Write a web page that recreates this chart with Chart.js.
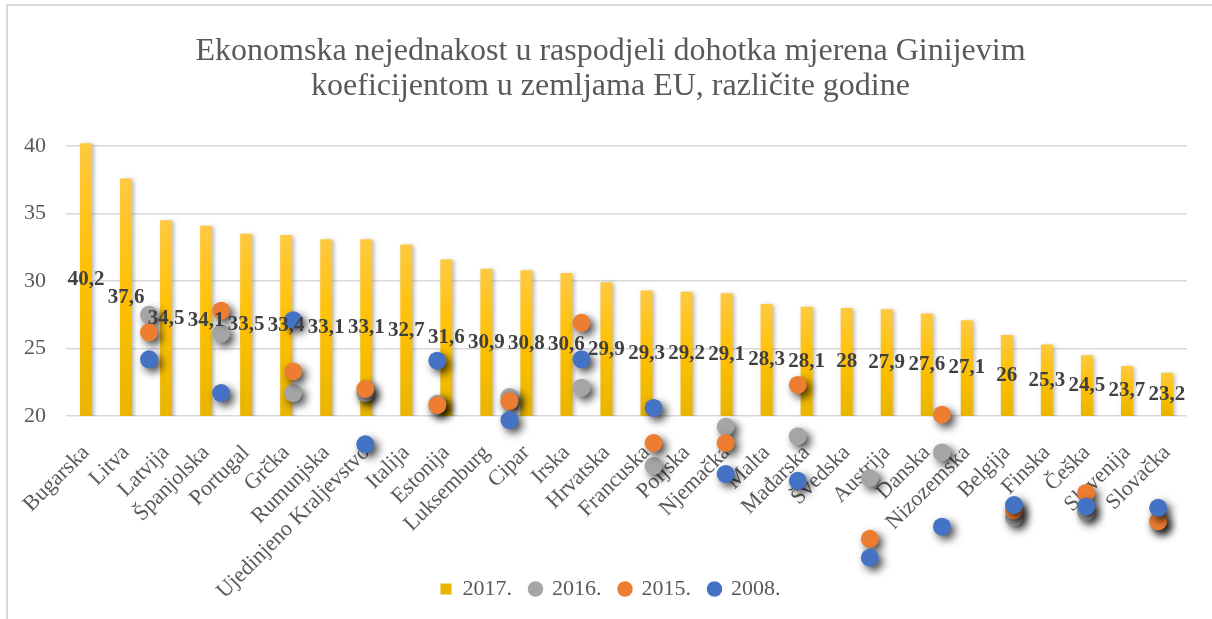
<!DOCTYPE html>
<html>
<head>
<meta charset="utf-8">
<title>Gini koeficijent EU</title>
<script src="https://cdn.jsdelivr.net/npm/chart.js@4.4.0/dist/chart.umd.min.js"></script>
<style>
  html, body { margin: 0; padding: 0; background: #fff; overflow: hidden; }
  #wrap { position: absolute; left: 6px; top: 4px; width: 1210px; height: 615px; border: 2px solid #d9d9d9; }
  canvas { display: block; }
</style>
</head>
<body>
<div id="wrap"><canvas id="giniChart" width="1210" height="615"></canvas></div>
<script>
// zemlje i Gini 2017. (stupci)
const countries = ['Bugarska', 'Litva', 'Latvija', 'Španjolska', 'Portugal', 'Grčka', 'Rumunjska',
  'Ujedinjeno Kraljevstvo', 'Italija', 'Estonija', 'Luksemburg', 'Cipar', 'Irska', 'Hrvatska',
  'Francuska', 'Poljska', 'Njemačka', 'Malta', 'Mađarska', 'Švedska', 'Austrija', 'Danska',
  'Nizozemska', 'Belgija', 'Finska', 'Češka', 'Slovenija', 'Slovačka'];
const gini2017 = [40.2, 37.6, 34.5, 34.1, 33.5, 33.4, 33.1, 33.1, 32.7, 31.6, 30.9, 30.8, 30.6, 29.9,
  29.3, 29.2, 29.1, 28.3, 28.1, 28, 27.9, 27.6, 27.1, 26, 25.3, 24.5, 23.7, 23.2];

// točke (xy serije, 15 točaka)
const pointX = [1, 2, 3, 4, 5, 6, 7, 8, 9, 10, 11, 12, 13, 14, 15];
const gini2016 = [27.5, 26.1, 21.7, 21.7, 20.9, 21.4, 22.1, 16.3, 19.2, 18.5, 15.4, 17.3, 12.5, 12.9, 12.2];
const gini2015 = [26.2, 27.8, 23.3, 22.0, 20.8, 21.1, 26.9, 18.0, 18.0, 22.3, 10.9, 20.1, 13.0, 14.3, 12.2];
const gini2008 = [24.2, 21.7, 27.1, 17.9, 24.1, 19.7, 24.2, 20.6, 15.7, 15.2, 9.5, 11.8, 13.4, 13.3, 13.2];

const yTicks = [20, 25, 30, 35, 40];

const serif = '"Liberation Serif", "Times New Roman", serif';
const fmt = v => String(v).replace('.', ',');
const toXY = arr => arr.map((y, i) => ({x: pointX[i], y: y}));
const noLabelClip = scale => { scale._computeLabelArea = () => undefined; };

const barFill = (c) => {
  const chart = c.chart;
  const y = chart.scales.y;
  if (!y || c.raw === undefined) return '#FFC000';
  const top = y.getPixelForValue(c.raw);
  const bottom = y.bottom;
  if (!isFinite(top) || !isFinite(bottom) || top === bottom) return '#FFC000';
  const g = chart.ctx.createLinearGradient(0, top, 0, bottom);
  g.addColorStop(0, '#FFC940');
  g.addColorStop(0.5, '#FFC000');
  g.addColorStop(1, '#E8B500');
  return g;
};

// sjene; tocke ispod osi (vrijednost < 20) se takodjer crtaju
const shadows = {
  id: 'shadows',
  beforeDatasetDraw(chart, args) {
    const ctx = chart.ctx;
    ctx.save();
    if (args.index === 0) {
      ctx.shadowColor = 'rgba(0,0,0,0.28)';
      ctx.shadowBlur = 4;
      ctx.shadowOffsetX = 2;
      ctx.shadowOffsetY = 1;
    } else {
      ctx.shadowColor = 'rgba(0,0,0,0.75)';
      ctx.shadowBlur = 8;
      ctx.shadowOffsetX = 4;
      ctx.shadowOffsetY = 4;
      this._area = chart.chartArea;
      chart.chartArea = {left: 0, top: 0, right: chart.width, bottom: chart.height,
        width: chart.width, height: chart.height};
    }
  },
  afterDatasetDraw(chart) {
    if (this._area) {
      chart.chartArea = this._area;
      this._area = null;
    }
    chart.ctx.restore();
  }
};

// vrijednosti u sredini stupca
const barLabels = {
  id: 'barLabels',
  afterDatasetsDraw(chart) {
    const ctx = chart.ctx;
    const y = chart.scales.y;
    const meta = chart.getDatasetMeta(0);
    ctx.save();
    ctx.font = 'bold 21px ' + serif;
    ctx.fillStyle = '#404040';
    ctx.textAlign = 'center';
    ctx.textBaseline = 'middle';
    meta.data.forEach((bar, i) => {
      const v = gini2017[i];
      ctx.fillText(fmt(v), bar.x, y.getPixelForValue((v + y.min) / 2));
    });
    ctx.restore();
  }
};

new Chart(document.getElementById('giniChart'), {
  type: 'bar',
  data: {
    labels: countries,
    datasets: [
      {
        label: '2017.',
        data: gini2017,
        backgroundColor: barFill,
        grouped: false,
        barPercentage: 0.3,
        categoryPercentage: 1,
        pointStyle: 'rect',
        clip: {left: false, top: 10, right: false, bottom: 0},
        order: 4
      },
      {
        type: 'scatter', label: '2016.', data: toXY(gini2016), xAxisID: 'x2',
        backgroundColor: '#A5A5A5', borderColor: '#A5A5A5', pointRadius: 9, borderWidth: 0,
        clip: false, order: 3
      },
      {
        type: 'scatter', label: '2015.', data: toXY(gini2015), xAxisID: 'x2',
        backgroundColor: '#ED7D31', borderColor: '#ED7D31', pointRadius: 9, borderWidth: 0,
        clip: false, order: 2
      },
      {
        type: 'scatter', label: '2008.', data: toXY(gini2008), xAxisID: 'x2',
        backgroundColor: '#4472C4', borderColor: '#4472C4', pointRadius: 9, borderWidth: 0,
        clip: false, order: 1
      }
    ]
  },
  options: {
    responsive: false,
    animation: false,
    events: [],
    layout: { padding: { left: 26, right: 31, top: 0, bottom: 11 } },
    scales: {
      x: {
        offset: true,
        grid: { display: false },
        border: { display: false },
        ticks: {
          autoSkip: false, minRotation: 45, maxRotation: 45, padding: 16,
          color: '#595959', font: { family: serif, size: 22 }
        },
        afterFit(scale) { scale.height = 144; noLabelClip(scale); }
      },
      x2: { type: 'linear', display: false, offset: false, min: -0.152, max: 15.4 },
      y: {
        min: 20, max: 40,
        afterBuildTicks(scale) { scale.ticks = yTicks.map(v => ({value: v})); },
        grid: { color: '#d9d9d9', lineWidth: 1.5, drawTicks: false },
        border: { display: false },
        ticks: { padding: 20, color: '#595959', font: { family: serif, size: 22 } },
        afterFit(scale) { scale.width = 32; noLabelClip(scale); }
      }
    },
    plugins: {
      title: {
        display: true,
        text: ['Ekonomska nejednakost u raspodjeli dohotka mjerena Ginijevim',
               'koeficijentom u zemljama EU, različite godine'],
        color: '#595959',
        font: { family: serif, size: 32, weight: 'normal', lineHeight: 1.094 },
        padding: { top: 28, bottom: 42 }
      },
      legend: {
        position: 'bottom',
        labels: {
          usePointStyle: true, boxWidth: 11, boxHeight: 11, padding: 18,
          color: '#595959', font: { family: serif, size: 22 },
          sort: (a, b) => a.datasetIndex - b.datasetIndex
        }
      },
      tooltip: { enabled: false }
    }
  },
  plugins: [shadows, barLabels]
});
</script>
</body>
</html>
